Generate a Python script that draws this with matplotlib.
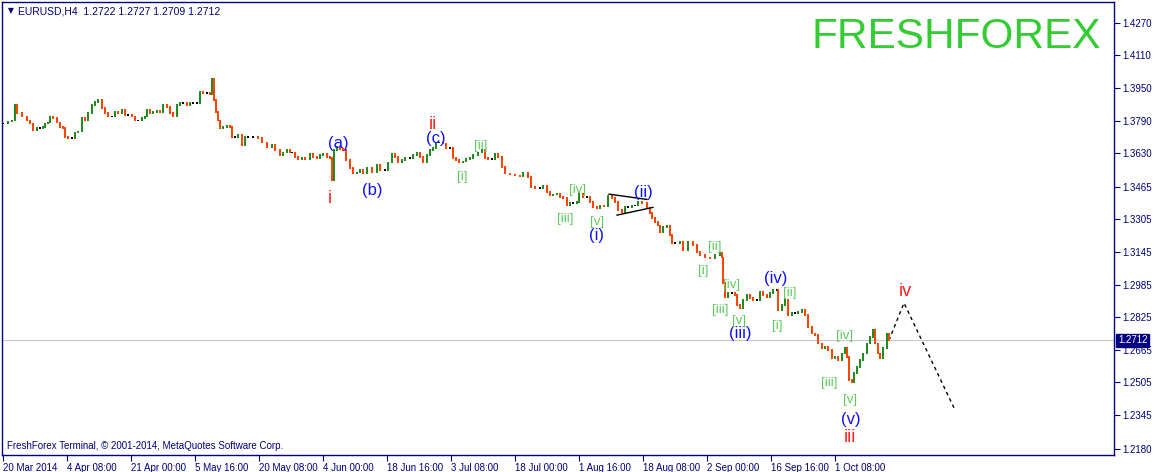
import matplotlib
matplotlib.use("Agg")
import matplotlib.pyplot as plt
import matplotlib.transforms as mtransforms

plt.rcParams['font.family'] = ['Liberation Sans', 'DejaVu Sans']

# EURUSD H4, one bar ~ one pixel column; close prices
bars = [3, 8, 12, 15, 17, 22, 27, 30, 33, 37, 40, 43, 45, 48, 50, 53, 57, 60, 63, 65,
        68, 72, 75, 78, 82, 85, 88, 92, 95, 98, 102, 105, 108, 112, 115, 118, 122, 125, 128, 132,
        135, 138, 142, 145, 147, 150, 153, 157, 160, 163, 167, 170, 173, 177, 180, 183, 187, 190, 193, 197,
        200, 203, 207, 210, 212, 214, 216, 218, 220, 223, 227, 230, 232, 235, 238, 242, 245, 248, 253, 258,
        262, 267, 272, 275, 280, 283, 287, 290, 292, 295, 298, 302, 305, 310, 313, 317, 320, 323, 327, 330,
        332, 334, 337, 340, 343, 346, 350, 353, 357, 360, 363, 367, 372, 377, 380, 385, 388, 392, 395, 398,
        402, 405, 410, 413, 417, 420, 423, 427, 430, 433, 436, 439, 443, 446, 450, 453, 456, 459, 463, 466,
        470, 473, 478, 482, 485, 488, 492, 495, 498, 502, 505, 510, 515, 520, 523, 528, 531, 535, 540, 543,
        547, 550, 553, 557, 560, 563, 567, 570, 573, 577, 579, 583, 587, 590, 593, 597, 600, 604, 608, 612,
        615, 618, 622, 625, 628, 632, 635, 638, 642, 647, 650, 652, 655, 658, 660, 663, 667, 670, 672, 675,
        680, 683, 688, 693, 697, 700, 705, 710, 715, 720, 722, 723, 725, 728, 732, 735, 737, 740, 743, 747,
        750, 753, 757, 760, 763, 767, 770, 773, 777, 778, 782, 785, 788, 792, 795, 798, 802, 805, 808, 812,
        815, 818, 822, 825, 828, 832, 835, 838, 842, 845, 847, 849, 852, 854, 857, 860, 863, 867, 870, 873,
        875, 878, 880, 883, 887, 889]
closes = [1.3777, 1.3787, 1.3792, 1.3866, 1.3827, 1.3808, 1.3792, 1.3777, 1.3743, 1.3753,
          1.3753, 1.3758, 1.3777, 1.3782, 1.3808, 1.3803, 1.3782, 1.3758, 1.3753, 1.3709,
          1.3704, 1.3704, 1.3733, 1.3738, 1.3803, 1.3792, 1.3827, 1.3866, 1.3881, 1.3891,
          1.3852, 1.3827, 1.3808, 1.3808, 1.3832, 1.3827, 1.3842, 1.3817, 1.3817, 1.3808,
          1.3792, 1.3792, 1.3803, 1.3808, 1.3842, 1.3827, 1.3832, 1.3837, 1.3832, 1.3866,
          1.3857, 1.3827, 1.3808, 1.3866, 1.3876, 1.3876, 1.3862, 1.3876, 1.3876, 1.3876,
          1.3930, 1.3925, 1.3925, 1.3916, 1.3994, 1.3891, 1.3832, 1.3792, 1.3753, 1.3758,
          1.3763, 1.3758, 1.3709, 1.3709, 1.3719, 1.3670, 1.3709, 1.3709, 1.3709, 1.3704,
          1.3684, 1.3660, 1.3670, 1.3645, 1.3621, 1.3635, 1.3645, 1.3635, 1.3635, 1.3611,
          1.3601, 1.3606, 1.3601, 1.3630, 1.3611, 1.3606, 1.3621, 1.3630, 1.3611, 1.3606,
          1.3498, 1.3645, 1.3660, 1.3650, 1.3645, 1.3596, 1.3557, 1.3532, 1.3537, 1.3547,
          1.3532, 1.3557, 1.3537, 1.3572, 1.3547, 1.3547, 1.3586, 1.3630, 1.3611, 1.3586,
          1.3596, 1.3606, 1.3606, 1.3621, 1.3635, 1.3611, 1.3586, 1.3621, 1.3645, 1.3655,
          1.3684, 1.3684, 1.3679, 1.3655, 1.3655, 1.3606, 1.3596, 1.3586, 1.3591, 1.3601,
          1.3606, 1.3621, 1.3635, 1.3645, 1.3606, 1.3601, 1.3601, 1.3630, 1.3611, 1.3562,
          1.3532, 1.3527, 1.3522, 1.3518, 1.3537, 1.3513, 1.3464, 1.3459, 1.3459, 1.3473,
          1.3439, 1.3424, 1.3429, 1.3434, 1.3415, 1.3410, 1.3375, 1.3385, 1.3385, 1.3390,
          1.3434, 1.3415, 1.3415, 1.3390, 1.3366, 1.3361, 1.3375, 1.3371, 1.3424, 1.3410,
          1.3390, 1.3351, 1.3341, 1.3366, 1.3366, 1.3375, 1.3375, 1.3390, 1.3385, 1.3361,
          1.3336, 1.3312, 1.3292, 1.3277, 1.3243, 1.3268, 1.3277, 1.3228, 1.3189, 1.3189,
          1.3194, 1.3155, 1.3194, 1.3179, 1.3145, 1.3130, 1.3120, 1.3115, 1.3130, 1.3140,
          1.3120, 1.2993, 1.2924, 1.2944, 1.2944, 1.2934, 1.2885, 1.2870, 1.2910, 1.2934,
          1.2919, 1.2910, 1.2910, 1.2949, 1.2934, 1.2924, 1.2944, 1.2959, 1.2959, 1.2861,
          1.2885, 1.2910, 1.2836, 1.2846, 1.2846, 1.2851, 1.2861, 1.2836, 1.2777, 1.2747,
          1.2738, 1.2698, 1.2674, 1.2679, 1.2664, 1.2625, 1.2630, 1.2615, 1.2649, 1.2674,
          1.2630, 1.2517, 1.2507, 1.2551, 1.2581, 1.2615, 1.2649, 1.2698, 1.2728, 1.2762,
          1.2698, 1.2649, 1.2625, 1.2674, 1.2747, 1.2712]
last_price = 1.2712

# projected wave iv (dashed)
proj_bars = [889, 904, 955]
proj_prices = [1.2712, 1.2895, 1.2370]

# triangle in wave (ii)
tri_upper_bars = [609, 647]
tri_upper_prices = [1.3429, 1.3403]
tri_lower_bars = [617, 653]
tri_lower_prices = [1.3326, 1.3364]

# Elliott wave labels: text, bar, price
red_labels = [('i', 330, 1.3410), ('ii', 433, 1.3773), ('iii', 850, 1.2233), ('iv', 905, 1.2949)]
blue_labels = [('(a)', 338, 1.3679), ('(b)', 372, 1.3449), ('(c)', 436, 1.3704),
               ('(i)', 596, 1.3224), ('(ii)', 643, 1.3439), ('(iii)', 740, 1.2743),
               ('(iv)', 776, 1.3013), ('(v)', 851, 1.2321)]
green_labels = [('[i]', 462, 1.3513), ('[ii]', 481, 1.3665), ('[iii]', 565, 1.3307),
                ('[iv]', 578, 1.3449), ('[v]', 597, 1.3292),
                ('[i]', 703, 1.3052), ('[ii]', 715, 1.3170), ('[iii]', 720, 1.2861),
                ('[iv]', 732, 1.2983), ('[v]', 739, 1.2806),
                ('[i]', 777, 1.2782), ('[ii]', 790, 1.2944), ('[iii]', 829, 1.2502),
                ('[iv]', 845, 1.2733), ('[v]', 850, 1.2419)]

date_bars = [3, 67, 131, 195, 259, 323, 387, 451, 515, 579, 643, 707, 771, 835]
date_labels = ['20 Mar 2014', '4 Apr 08:00', '21 Apr 00:00', '5 May 16:00', '20 May 08:00',
               '4 Jun 00:00', '18 Jun 16:00', '3 Jul 08:00', '18 Jul 00:00', '1 Aug 16:00',
               '18 Aug 08:00', '2 Sep 00:00', '16 Sep 16:00', '1 Oct 08:00']
price_labels = ['1.4270', '1.4110', '1.3950', '1.3790', '1.3630', '1.3465', '1.3305',
                '1.3145', '1.2985', '1.2825', '1.2665', '1.2505', '1.2345', '1.2180']

navy = '#000080'
up_col = '#228B22'
dn_col = '#FF4500'

W, H = 1154, 472
fig = plt.figure(figsize=(W / 100, H / 100), dpi=100)
ax = fig.add_axes([2 / W, 17 / H, 1112 / W, 453 / H])

# candles: body from previous close to close, thin like the H4 bars of the terminal
opens = [closes[0]] + closes[:-1]
bottoms = [min(o, c) - 0.0003 for o, c in zip(opens, closes)]
heights = [abs(c - o) + 0.0006 for o, c in zip(opens, closes)]
colors = [up_col if c > o else (dn_col if c < o else 'black') for o, c in zip(opens, closes)]
ax.bar(bars, heights, bottom=bottoms, width=2.0, color=colors, linewidth=0, zorder=3)

ax.axhline(last_price, color='#C8C8C8', lw=0.8, zorder=1)
ax.plot(proj_bars, proj_prices, ls=(0, (2.5, 2.5)), color='black', lw=1.0, zorder=2)
ax.plot(tri_upper_bars, tri_upper_prices, color='black', lw=1.0, zorder=4)
ax.plot(tri_lower_bars, tri_lower_prices, color='black', lw=1.0, zorder=4)

for t, b, p in red_labels:
    ax.text(b, p, t, color='#FF2020', fontsize=13, ha='center', va='center', zorder=5)
for t, b, p in blue_labels:
    ax.text(b, p, t, color='#1010FF', fontsize=12, ha='center', va='center', zorder=5)
for t, b, p in green_labels:
    ax.text(b, p, t, color='#5CCB5C', fontsize=9.5, ha='center', va='center', zorder=5)

ax.set_xlim(2, 1114)
ax.set_ylim(1.21492, 1.43716)

for s in ax.spines.values():
    s.set_color(navy)
    s.set_linewidth(1.0)

ax.yaxis.tick_right()
ax.set_yticks([float(v) for v in price_labels])
ax.set_yticklabels(price_labels)
ax.tick_params(axis='y', colors=navy, labelcolor=navy, labelsize=7, length=4, width=0.8, pad=2)
ax.set_xticks(date_bars)
ax.set_xticklabels(date_labels, ha='left')
ax.tick_params(axis='x', colors=navy, labelcolor=navy, labelsize=7, length=4, width=0.8, pad=1.5)

# last price marker on the price scale
tr = mtransforms.blended_transform_factory(ax.transAxes, ax.transData)
ax.text(1.0035, last_price, '1.2712', transform=tr, color='white', fontsize=7, va='center',
        ha='left', bbox=dict(boxstyle='square,pad=0.15', fc=navy, ec=navy), clip_on=False, zorder=6)

fig.text(8 / W, 1 - 11 / H, '\u25bc', color=navy, fontsize=5.5, va='center', ha='left',
         family='DejaVu Sans')
fig.text(18 / W, 1 - 11 / H, 'EURUSD,H4  1.2722 1.2727 1.2709 1.2712', color=navy,
         fontsize=7.5, va='center', ha='left')
fig.text(7 / W, 1 - 446 / H, 'FreshForex Terminal, \u00a9 2001-2014, MetaQuotes Software Corp.',
         color=navy, fontsize=7, va='center', ha='left')
fig.text(956 / W, 1 - 37 / H, 'FRESHFOREX', color='#33CC33', fontsize=30.5, va='center',
         ha='center')

fig.savefig('out.png', dpi=100, facecolor='white')
